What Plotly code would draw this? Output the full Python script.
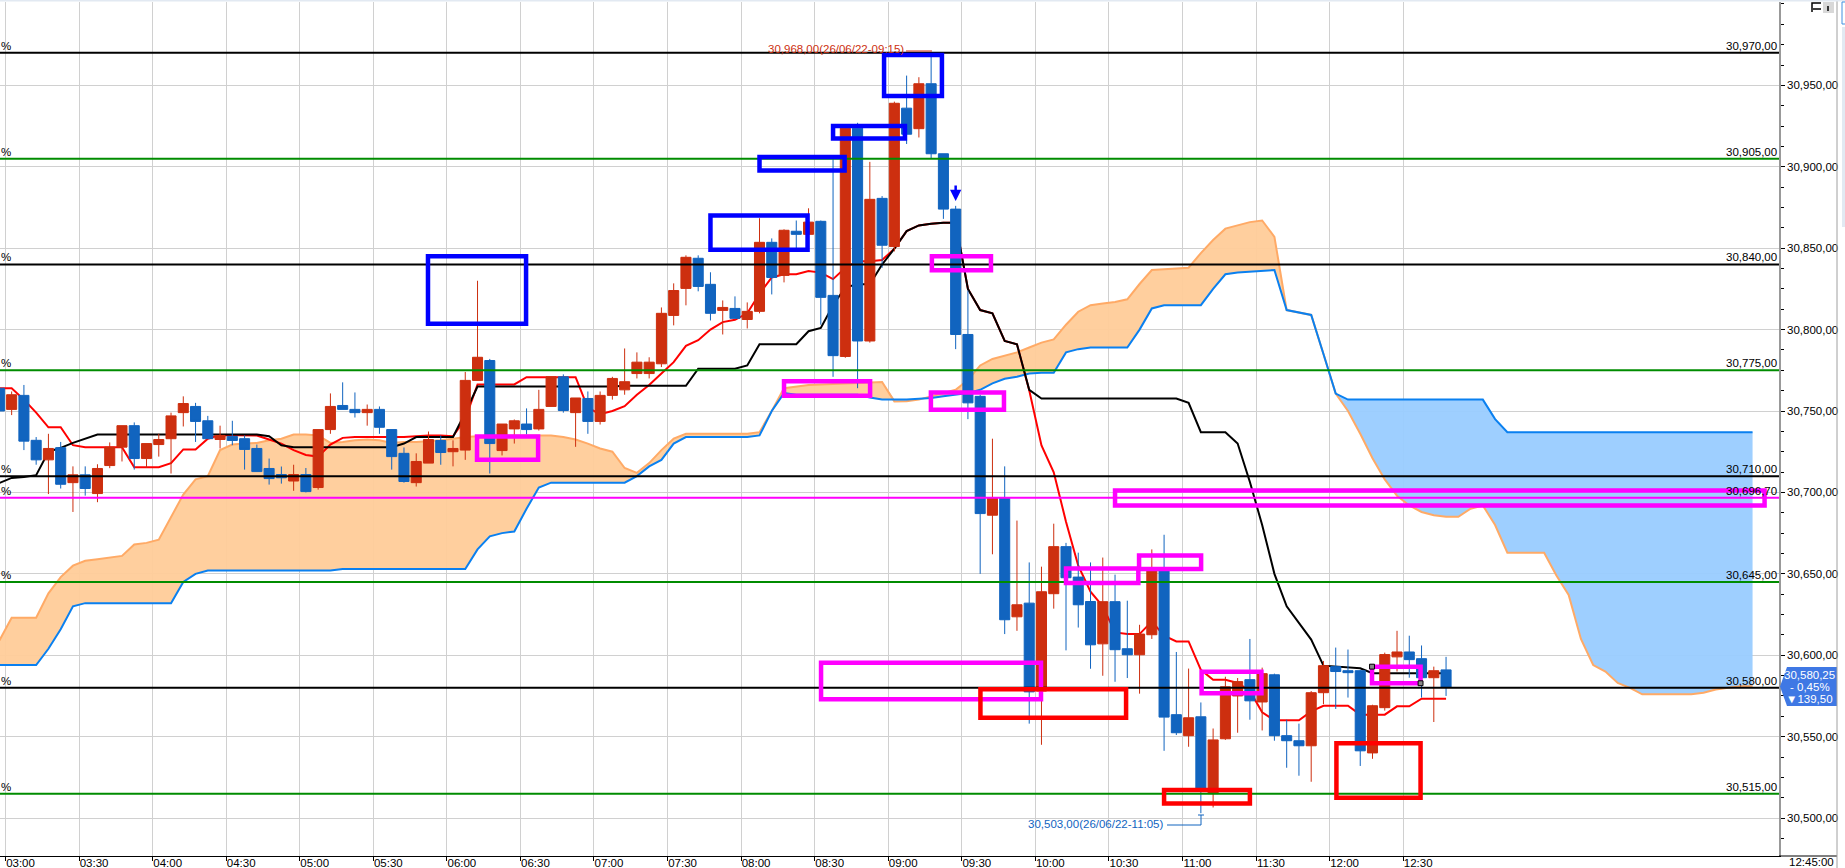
import pandas as pd
import plotly.graph_objects as go

# ---------------- data ----------------
bar_top = [
 30764,30760,30759.6,30732,30727,30727.5,30710.8,30710.8,30714.7,30727.8,
 30741,30741,30730,30732.5,30747,30754.6,30752.8,30744,30735,30734.4,
 30733,30727,30714.7,30711,30711,30711,30738.6,30752.8,30753.4,30751,
 30751,30751,30738.6,30724,30719,30732.5,30731.9,30727,30768.8,30783,
 30781,30742,30744,30742,30751,30771,30771,30758,30757.7,30759.6,
 30770,30768,30780,30780,30810,30824,30844.4,30843.8,30827.8,30813.6,
 30813,30811.2,30853.6,30853.6,30861,30860.4,30866,30866.5,30821,30923.7,
 30923.7,30880,30880.6,30939,30936,30951,30951,30908,30874,30797,
 30759,30696.8,30696.8,30631,30632,30639,30666.7,30666.7,30648,30633,
 30632.9,30632.9,30604,30613,30653,30653,30563.5,30561.6,30562.2,30548,
 30580.6,30583.8,30585,30588.7,30588,30550.6,30547.5,30577,30593.6,30593,
 30590.5,30590.5,30569,30600.4,30602,30602,30597.9,30590.5,30591]
bar_bot = [
 30750,30751,30731.5,30720,30720,30705,30706,30702.4,30699.3,30716.5,
 30727.8,30720.8,30720.8,30729.4,30733,30749,30743.6,30733,30732.5,30731.9,
 30726.4,30712.8,30708.5,30709,30707,30700.5,30703,30738.6,30751,30749,
 30749,30740,30722,30706.7,30706,30718,30724.5,30725,30726,30768.8,
 30730,30725.7,30739,30738.6,30739,30752.8,30750.3,30749,30743.6,30743.6,
 30759.6,30763,30773,30773,30779,30808.7,30825.3,30826.5,30810,30811.8,
 30806.9,30806.2,30811.2,30832,30833.3,30858.5,30858.5,30819.8,30784,30783.5,
 30793,30793,30851.8,30851,30920,30923.4,30908,30874,30797,30755,
 30687,30686,30621.8,30623.6,30577.5,30578,30637.8,30647.6,30631,30606.4,
 30607,30603.4,30600.3,30600.3,30612.6,30562,30552.4,30550.6,30517,30515,
 30548.7,30575,30572,30571.3,30550.6,30547.5,30544.4,30544.4,30577,30590,
 30589.3,30541.3,30540,30567.8,30599,30597.3,30586.2,30586.2,30580.25]
bar_high = [
 30767,30762,30766,30734,30736,30731,30716,30716,30717.3,30730.7,
 30741,30743,30730,30736,30749,30759,30755,30747,30741,30744,
 30735,30729.4,30720.8,30715.9,30717,30715,30738.6,30760.8,30767.6,30761.4,
 30754,30752.8,30738.6,30727.6,30724,30737.4,30735,30732,30774,30830,
 30782,30742,30744.8,30751.6,30763,30771,30772.5,30758,30762,30762,
 30771,30788.4,30786,30783,30813.6,30828.4,30845.6,30845.6,30835.2,30817.9,
 30820.4,30816.7,30868.4,30856,30861.6,30867,30874.5,30867,30904.6,30925,
 30927,30903,30882,30940,30956,30955,30968,30908,30876,30824,
 30760,30733,30716,30682.7,30657,30654.4,30680.8,30669,30663,30657,
 30660,30649.5,30633.5,30618.7,30665,30674,30602,30591.8,30571,30555,
 30586.8,30586,30610,30592.4,30588.7,30560.4,30558,30578,30596.5,30604.7,
 30603.5,30591,30569.6,30601.6,30615,30612,30606,30593,30599]
bar_low = [
 30748,30747.5,30726,30717,30699,30702.4,30688,30698,30694,30714.9,
 30719,30714,30715,30722,30711.6,30740.5,30731,30733,30727,30729,
 30714,30712.8,30704.8,30705.4,30701,30700,30701.7,30736,30751,30746,
 30741,30736,30714,30706,30703.6,30718,30717,30716,30720,30768.8,
 30711.6,30722.7,30730,30735.6,30738,30752.8,30749,30728,30736,30741.7,
 30757,30760,30770,30770,30777,30802.6,30814.9,30823.5,30805.6,30797,
 30806.9,30800.7,30810,30821.6,30829,30850,30858.5,30803,30771,30782.7,
 30764,30792,30838,30848,30914,30918,30905,30868,30788,30745,
 30650,30662,30613,30615,30558,30545,30628.6,30603,30617,30591.7,
 30587.4,30583.7,30586,30576.4,30610,30541.3,30551,30543.8,30503,30506.5,
 30548,30552.4,30560.4,30553.8,30547.5,30530.9,30526,30522.3,30570,30567,
 30574,30532,30536.4,30566,30590,30586.2,30574,30559,30575]
# 1 = close above open (red), 0 = close below open (blue)
bar_up = [
 0,1,0,0,1,0,1,0,1,1,
 1,0,1,1,1,1,0,0,1,0,
 0,0,0,0,1,0,1,1,0,0,
 1,0,0,0,1,1,0,1,1,1,
 0,1,1,0,1,1,0,1,0,1,
 1,1,1,1,1,1,1,0,0,1,
 0,1,1,0,1,0,1,0,0,1,
 0,1,0,1,0,1,0,0,0,0,
 0,1,0,1,0,1,1,0,0,0,
 1,0,0,1,1,0,0,1,0,1,
 1,1,0,1,0,0,0,1,1,0,
 0,0,1,1,1,0,0,1,0]

tenkan = [
 30764,30764,30757,30749,30740,30740,30729,30727.8,30727.8,30727.8,
 30727.8,30715.5,30715.5,30715.5,30718,30726.4,30726.4,30733,30735.2,30735.2,
 30735.2,30735,30732.5,30730,30726,30723,30722,30729.4,30733.5,30734,
 30734,30734,30734,30734,30734.5,30735,30735,30734.5,30745,30766.3,
 30766.3,30766.3,30766.3,30770.8,30770.8,30770.8,30770.8,30770.8,30752,30748,
 30750,30753,30760,30766,30773,30780,30790,30793.5,30800,30804.6,
 30806,30810,30822,30832,30834,30834,30836,30835,30831,30838,
 30842,30842,30842.7,30849.7,30860.5,30864,30865,30865.6,30865.6,30825,
 30812,30810,30793,30791,30762.8,30728.8,30712.4,30682,30655,30639,
 30630,30614,30613,30613,30620.8,30612,30608.5,30608.5,30591,30585,
 30585,30583,30578,30565,30560,30560,30560,30565.5,30569,30569,
 30569,30563.5,30563.5,30563.5,30568.6,30568.6,30573.3,30573.3,30573.3]
kijun = [
 30705.8,30708.9,30709.5,30710.6,30725,30727.4,30730.4,30733,30735.6,30735.6,
 30735.6,30735.6,30735.6,30735.6,30735.6,30735.6,30735.6,30735.6,30735.6,30735.6,
 30735.6,30735.6,30734.5,30729,30727.8,30727.8,30727.8,30727.8,30727.8,30727.8,
 30727.8,30727.8,30727.8,30730,30734,30734,30734,30734,30749,30765,
 30765,30765,30765,30765,30765,30765,30765,30765,30765,30765,
 30765,30765.5,30765.5,30765.5,30765.5,30765.5,30765.5,30776,30776,30776,
 30776,30778,30791,30791,30791,30791,30799,30801,30815,30826,
 30827.8,30827.8,30840,30849.7,30860.5,30864,30865,30865.6,30865.6,30825,
 30812,30810,30793,30791,30763,30757.7,30757.7,30757.7,30757.7,30757.7,
 30757.7,30757.7,30757.7,30757.7,30757.7,30757.7,30757.7,30755,30737,30737,
 30737,30730,30706.4,30680,30650,30630,30619.6,30609.6,30593.6,30593,
 30592.5,30592,30589,30589,30589,30589,30589,30589,30589]
senkou_a = [
 30609,30623,30623,30623,30638,30648,30655,30658,30659,30660,
 30661,30668,30669,30671,30685,30698.7,30708,30710,30726,30729.4,
 30730,30730.4,30732,30733,30735.6,30735.6,30735,30730.4,30731,30732,
 30732.5,30732,30730.4,30731,30731,30731.5,30732,30733,30734,30734.5,
 30735,30735,30735,30735,30735,30735,30734,30732.5,30730,30727,
 30725,30715,30712,30718,30726,30733,30736,30736,30736,30736,
 30736,30736,30737,30750,30764,30765,30766,30766.3,30766.6,30767,
 30767.4,30767.6,30767.8,30755.9,30756,30757,30759,30761,30763,30769,
 30778,30782,30784,30786,30789,30792,30794,30803,30811,30815,
 30816,30817,30818.6,30828,30836.6,30837,30837.5,30838,30847,30855,
 30862,30864,30866,30867,30857,30812,30810.5,30809,30785,30760.7,
 30750,30736,30721,30708,30698,30692,30688,30686,30685,30685,
 30690,30692,30680,30663,30663,30663,30663,30649,30637,30610,
 30594,30590,30583,30580,30576,30576,30576,30576,30576,30577,
 30579,30580,30581,30581]
senkou_b = [
 30594,30594,30594,30594,30604,30616,30630,30632,30632,30632,
 30632,30632,30632,30632,30632,30645,30650,30652,30652,30652,
 30652,30652,30652,30652,30652,30652,30652,30652,30653,30653,
 30653,30653,30653,30653,30653,30653,30653,30653,30653,30665,
 30673,30675,30676,30690,30703,30706,30706,30706,30706,30706,
 30706,30706,30710,30716,30720,30730,30734,30734,30734,30734,
 30734,30734,30735,30750,30761,30760,30760,30760,30760,30760,
 30760,30758.3,30757,30757,30757,30757.5,30758,30759,30760,30761,
 30763,30767,30769.8,30771,30773,30773.5,30773.5,30786,30788,30789,
 30789,30789,30789,30800,30813,30815,30815,30815,30815,30825,
 30834,30835,30835.5,30836,30836.6,30812,30810.5,30809,30785,30760.7,
 30757,30757,30757,30757,30757,30757,30757,30757,30757,30757,
 30757,30757,30745,30737,30737,30737,30737,30737,30737,30737,
 30737,30737,30737,30737,30737,30737,30737,30737,30737,30737,
 30737,30737,30737,30737]

black_levels = [30970, 30840, 30710, 30580]
green_levels = [30905, 30775, 30645, 30515]
magenta_level = 30696.7
level_labels = {30970:"30,970,00",30905:"30,905,00",30840:"30,840,00",30775:"30,775,00",
                30710:"30,710,00",30696.7:"30,696,70",30645:"30,645,00",30580:"30,580,00",30515:"30,515,00"}
price_ticks = [30500,30550,30600,30650,30700,30750,30800,30850,30900,30950]
price_tick_text = ["30,500,00","30,550,00","30,600,00","30,650,00","30,700,00",
                   "30,750,00","30,800,00","30,850,00","30,900,00","30,950,00"]
time_tick_text = ["03:00","03:30","04:00","04:30","05:00","05:30","06:00","06:30","07:00","07:30",
                  "08:00","08:30","09:00","09:30","10:00","10:30","11:00","11:30","12:00","12:30"]

# boxes: minutes after 03:00 (start, end), price (low, high)
blue_boxes = [(172.3,212.3,30803.6,30845),(287.5,327.1,30849,30870),(307.5,342.2,30897.7,30906),
              (337.5,366.8,30917.3,30925),(358.3,381.9,30943.4,30968.6)]
magenta_boxes = [(192.3,217.2,30720,30734.4),(317.5,352.6,30759.3,30768.2),(377.8,401.9,30836.4,30845),
                 (377.4,407.2,30750.7,30761.4),(332.6,422.3,30573,30595.4),(432.5,462,30644.3,30653.2),
                 (462.3,487.6,30653,30661.2),(487.8,512.2,30576.7,30589.9),(557.3,577.1,30582.8,30593),
                 (452.5,717.4,30692,30701.2)]
red_boxes = [(397.6,457,30561.6,30579.1),(472.5,507.5,30509,30517.3),(542.8,577.1,30512.4,30546)]
handle_points = [(557.3,30593),(577.1,30582.8)]

# ---------------- figure ----------------
UP, DOWN = "#CD2F0F", "#1164BF"
FONT = "Liberation Sans"
FS = 11.5
DAY = pd.Timestamp("2022-06-26 03:00:00")
PX_PER_MIN = 12.26 / 5.0
PLOT_W, PLOT_H, MT = 1779, 854, 2

def at(minutes):
    return (DAY + pd.Timedelta(minutes=minutes)).strftime("%Y-%m-%d %H:%M:%S")
def xp(px):
    return px / PLOT_W
def yp(py):
    return (MT + PLOT_H - py) / PLOT_H

n_bars = len(bar_top)
n_cloud = len(senkou_a)
t_bars = [at((i - 1) * 5 + 2.5) for i in range(n_bars)]
t_cloud = [at((i - 1) * 5 + 2.5) for i in range(n_cloud)]
opens = [b if u else t for t, b, u in zip(bar_top, bar_bot, bar_up)]
closes = [t if u else b for t, b, u in zip(bar_top, bar_bot, bar_up)]
cloud_top = [max(a, b) for a, b in zip(senkou_a, senkou_b)]

x_range = [at(-5.5 / PX_PER_MIN), at((PLOT_W - 5.5) / PX_PER_MIN)]
y_range = [30476.7, 31001.2]

fig = go.Figure()
def fill_between(lower, color):
    fig.add_trace(go.Scatter(x=t_cloud, y=lower, mode="lines", line=dict(width=0), showlegend=False, hoverinfo="skip"))
    fig.add_trace(go.Scatter(x=t_cloud, y=cloud_top, mode="lines", line=dict(width=0), fill="tonexty",
                             fillcolor=color, showlegend=False, hoverinfo="skip"))
fill_between(senkou_b, "rgba(255,204,153,0.95)")
fill_between(senkou_a, "rgba(153,204,255,0.95)")
fig.add_trace(go.Scatter(x=t_cloud, y=senkou_a, mode="lines", line=dict(color="#FFAA66", width=2), showlegend=False))
fig.add_trace(go.Scatter(x=t_cloud, y=senkou_b, mode="lines", line=dict(color="#0A80F0", width=2), showlegend=False))
fig.add_trace(go.Scatter(x=t_bars, y=tenkan, mode="lines", line=dict(color="#FF0000", width=2), showlegend=False))
fig.add_trace(go.Scatter(x=t_bars, y=kijun, mode="lines", line=dict(color="#000000", width=2), showlegend=False))
fig.add_trace(go.Candlestick(x=t_bars, open=opens, high=bar_high, low=bar_low, close=closes,
    xaxis="x2", yaxis="y2", showlegend=False, whiskerwidth=0,
    increasing=dict(line=dict(color=UP, width=1), fillcolor=UP),
    decreasing=dict(line=dict(color=DOWN, width=1), fillcolor=DOWN)))

shapes, annos = [], []
def hline(level, color):
    shapes.append(dict(type="line", xref="paper", yref="y", x0=0, x1=1, y0=level, y1=level,
                       line=dict(color=color, width=2)))
    annos.append(dict(xref="paper", yref="y", x=xp(1778), y=level, text=level_labels[level], showarrow=False,
                      xanchor="right", yanchor="bottom", yshift=0, font=dict(family=FONT, size=FS, color="#000"),
                      borderpad=0))
    annos.append(dict(xref="paper", yref="y", x=0, y=level, text="%", showarrow=False, xanchor="left",
                      yanchor="bottom", yshift=0, font=dict(family=FONT, size=FS, color="#000"), borderpad=0))
for lv in black_levels:
    hline(lv, "#000000")
for lv in green_levels:
    hline(lv, "#008C00")
hline(magenta_level, "#FF00FF")

def boxes(items, color):
    for m0, m1, lo, hi in items:
        shapes.append(dict(type="rect", xref="x", yref="y", x0=at(m0), x1=at(m1), y0=lo, y1=hi,
                           line=dict(color=color, width=4.5), fillcolor="rgba(0,0,0,0)"))
boxes(blue_boxes, "#0000FF")
boxes(magenta_boxes, "#FF00FF")
boxes(red_boxes, "#FF0000")
for m, v in handle_points:
    shapes.append(dict(type="rect", xref="x", yref="y", x0=at(m - 1.0), x1=at(m + 1.0), y0=v - 1.5, y1=v + 1.5,
                       line=dict(color="#000", width=1), fillcolor="#888888"))

# extreme labels and their leaders
annos.append(dict(xref="paper", yref="paper", x=xp(906), y=yp(49), text="30,968,00(26/06/22-09:15)", showarrow=False,
                  xanchor="right", yanchor="middle", font=dict(family=FONT, size=FS, color="#CD2F0F")))
shapes.append(dict(type="line", xref="paper", yref="paper", x0=xp(906), x1=xp(932), y0=yp(51), y1=yp(51),
                   line=dict(color="#CD2F0F", width=1)))
annos.append(dict(xref="paper", yref="paper", x=xp(1166), y=yp(824), text="30,503,00(26/06/22-11:05)", showarrow=False,
                  xanchor="right", yanchor="middle", font=dict(family=FONT, size=FS, color="#1164BF")))
shapes.append(dict(type="path", xref="paper", yref="paper",
                   path=f"M {xp(1167)} {yp(825)} L {xp(1201)} {yp(825)} L {xp(1201)} {yp(815)} M {xp(1198)} {yp(815)} L {xp(1204)} {yp(815)}",
                   line=dict(color="#1164BF", width=1)))

# blue arrow over the 09:25 candle
annos.append(dict(xref="x", yref="y", x=at(387.5), y=30879, ax=0, ay=-17, showarrow=True, text="",
                  arrowhead=2, arrowsize=0.9, arrowwidth=2.5, arrowcolor="#0000FF"))

# current price tag
TAG = "#3F78E4"
shapes.append(dict(type="path", xref="paper", yref="paper", fillcolor=TAG, line=dict(color=TAG, width=0),
                   path=f"M {xp(1780)} {yp(686.5)} L {xp(1787)} {yp(667)} L {xp(1837)} {yp(667)} L {xp(1837)} {yp(706)} L {xp(1787)} {yp(706)} Z"))
for py, txt in [(675, "30,580,25"), (686.5, "- 0,45%"), (698.5, "▼139,50")]:
    annos.append(dict(xref="paper", yref="paper", x=xp(1810), y=yp(py), text=txt, showarrow=False, xanchor="center",
                      yanchor="middle", font=dict(family=FONT, size=FS, color="#FFFFFF"), borderpad=0))

# clock label, frame and corner icon
annos.append(dict(xref="paper", yref="paper", x=xp(1835), y=yp(861.5), text="12:45:00", showarrow=False, xanchor="right",
                  yanchor="middle", font=dict(family=FONT, size=FS, color="#000"), borderpad=0))
shapes.append(dict(type="line", xref="paper", yref="paper", x0=1, x1=xp(1837), y0=0, y1=0, line=dict(color="#000", width=1)))
shapes.append(dict(type="line", xref="paper", yref="paper", x0=xp(1837), x1=xp(1837), y0=yp(0), y1=yp(868), line=dict(color="#A0A0A0", width=1)))
shapes.append(dict(type="rect", xref="paper", yref="paper", x0=0, x1=xp(1845), y0=yp(0), y1=yp(1.5), fillcolor="#E2E9F2", line=dict(width=0)))
shapes.append(dict(type="rect", xref="paper", yref="paper", x0=xp(1842), x1=xp(1845), y0=yp(27), y1=yp(227), fillcolor="#E2E9F2", line=dict(width=0)))
shapes.append(dict(type="rect", xref="paper", yref="paper", x0=xp(1842), x1=xp(1846), y0=yp(2), y1=yp(24), fillcolor="#FFFFFF", line=dict(color="#3F8FE0", width=1)))
shapes.append(dict(type="rect", xref="paper", yref="paper", x0=xp(1823), x1=xp(1834), y0=yp(2), y1=yp(13), fillcolor="#D8D8D8", line=dict(width=0)))
shapes.append(dict(type="path", xref="paper", yref="paper", line=dict(color="#000", width=1.5),
                   path=f"M {xp(1812)} {yp(12)} L {xp(1812)} {yp(3)} L {xp(1821)} {yp(3)} M {xp(1813)} {yp(9)} L {xp(1821)} {yp(9)} M {xp(1828)} {yp(6)} L {xp(1828)} {yp(11)}"))

fig.update_layout(
    width=1845, height=868, paper_bgcolor="#FFFFFF", plot_bgcolor="#FFFFFF",
    margin=dict(l=0, r=66, t=MT, b=12, autoexpand=False), showlegend=False,
    boxmode="overlay", boxgap=0.18, boxgroupgap=0, hovermode=False,
    shapes=shapes, annotations=annos,
    xaxis=dict(type="date", range=x_range, tickmode="array",
               tickvals=[at(30 * k) for k in range(len(time_tick_text))], ticktext=time_tick_text,
               showgrid=True, gridcolor="#D0D0D0", gridwidth=1, zeroline=False, ticks="outside", ticklen=4,
               tickcolor="#000", showline=True, linecolor="#000", linewidth=1,
               tickfont=dict(family=FONT, size=FS, color="#000"), ticklabelshift=15, ticklabelstandoff=-8,
               tickangle=0, rangeslider=dict(visible=False)),
    yaxis=dict(range=y_range, side="right", tickmode="array", tickvals=price_ticks, ticktext=price_tick_text,
               showgrid=True, gridcolor="#D0D0D0", gridwidth=1, zeroline=False, ticks="outside", ticklen=4,
               tickcolor="#000", showline=True, linecolor="#999999", linewidth=1.5,
               tickfont=dict(family=FONT, size=FS, color="#000"),
               minor=dict(tickmode="linear", tick0=30500, dtick=12.5, ticks="outside", ticklen=3, tickcolor="#000", showgrid=False)),
    xaxis2=dict(type="date", range=x_range, overlaying="x", visible=False, rangeslider=dict(visible=False)),
    yaxis2=dict(range=y_range, overlaying="y", visible=False),
)
fig.write_html("out.html", config={"displayModeBar": False},
               post_script="document.body.style.margin='0';document.body.style.overflow='hidden';")
